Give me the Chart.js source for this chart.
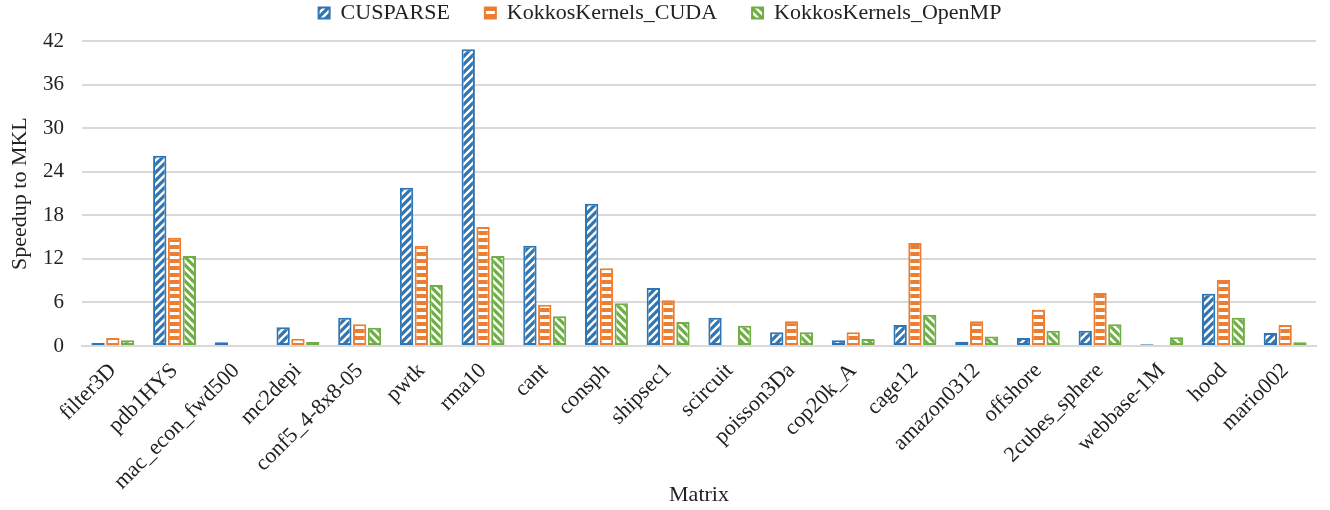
<!DOCTYPE html>
<html>
<head>
<meta charset="utf-8">
<script src="https://cdn.jsdelivr.net/npm/chart.js@4"></script>
<style>
  html, body { margin: 0; padding: 0; background: #ffffff; }
  #wrap { width: 1330px; height: 510px; }
</style>
</head>
<body>
<div id="wrap"><canvas id="c" width="1330" height="510"></canvas></div>
<script>
const categories = ["filter3D", "pdb1HYS", "mac_econ_fwd500", "mc2depi", "conf5_4-8x8-05", "pwtk", "rma10", "cant", "consph", "shipsec1", "scircuit", "poisson3Da", "cop20k_A", "cage12", "amazon0312", "offshore", "2cubes_sphere", "webbase-1M", "hood", "mario002"];
const cusparse = [0.4, 26.2, 0.5, 2.6, 3.9, 21.8, 40.9, 13.8, 19.6, 8.0, 3.9, 1.9, 0.8, 2.9, 0.6, 1.1, 2.1, 0.25, 7.2, 1.8];
const kkCuda = [1.1, 14.9, null, 1.0, 3.0, 13.8, 16.4, 5.7, 10.7, 6.3, null, 3.4, 1.9, 14.2, 3.4, 5.0, 7.3, null, 9.1, 2.9];
const kkOpenMP = [0.8, 12.4, 0.15, 0.55, 2.5, 8.4, 12.4, 4.1, 5.9, 3.3, 2.8, 1.9, 0.95, 4.3, 1.3, 2.1, 3.0, 1.2, 3.9, 0.5];
const seriesNames = ["CUSPARSE", "KokkosKernels_CUDA", "KokkosKernels_OpenMP"];
const yTicks = [0, 6, 12, 18, 24, 30, 36, 42];

const BLUE = "#2e75b6", ORANGE = "#ed7d31", GREEN = "#70ad47";

function diagPattern(color, dir) {
  const s = 8;
  const cv = document.createElement("canvas");
  cv.width = s; cv.height = s;
  const g = cv.getContext("2d");
  g.fillStyle = "#ffffff"; g.fillRect(0, 0, s, s);
  g.strokeStyle = color; g.lineWidth = 3.2; g.lineCap = "square";
  g.beginPath();
  if (dir > 0) {
    g.moveTo(-2, s + 2); g.lineTo(s + 2, -2);
    g.moveTo(-2, 2); g.lineTo(2, -2);
    g.moveTo(s - 2, s + 2); g.lineTo(s + 2, s - 2);
  } else {
    g.moveTo(-2, -2); g.lineTo(s + 2, s + 2);
    g.moveTo(s - 2, -2); g.lineTo(s + 2, 2);
    g.moveTo(-2, s - 2); g.lineTo(2, s + 2);
  }
  g.stroke();
  return g.createPattern(cv, "repeat");
}
function horizPattern(color) {
  const cv = document.createElement("canvas");
  cv.width = 8; cv.height = 7;
  const g = cv.getContext("2d");
  g.fillStyle = color; g.fillRect(0, 0, 8, 7);
  g.fillStyle = "#ffffff"; g.fillRect(0, 4, 8, 3);
  return g.createPattern(cv, "repeat");
}

const pBlue = diagPattern(BLUE, 1);
const pOrange = horizPattern(ORANGE);
const pGreen = diagPattern(GREEN, -1);

const common = { borderWidth: 2, borderSkipped: false, categoryPercentage: 0.72, barPercentage: 0.9 };

new Chart(document.getElementById("c"), {
  type: "bar",
  data: {
    labels: categories,
    datasets: [
      Object.assign({ label: seriesNames[0], data: cusparse, backgroundColor: pBlue, borderColor: BLUE }, common),
      Object.assign({ label: seriesNames[1], data: kkCuda, backgroundColor: pOrange, borderColor: ORANGE }, common),
      Object.assign({ label: seriesNames[2], data: kkOpenMP, backgroundColor: pGreen, borderColor: GREEN }, common)
    ]
  },
  options: {
    responsive: false,
    animation: false,
    layout: { padding: { left: 4, right: 14, top: -33, bottom: 2 } },
    plugins: {
      legend: {
        position: "top",
        labels: {
          font: { family: "Liberation Serif", size: 22 },
          color: "#222",
          boxWidth: 11, boxHeight: 11,
          padding: 35
        }
      },
      title: {
        display: true, text: "", weight: 500,
        font: { size: 1 }, padding: { top: 0, bottom: 6 }
      },
      tooltip: { enabled: false }
    },
    scales: {
      x: {
        grid: { display: false, drawTicks: false },
        border: { display: true, color: "#d9d9d9", width: 2 },
        afterFit: (axis) => { axis.height = 162; },
        ticks: {
          font: { family: "Liberation Serif", size: 22 },
          color: "#222",
          minRotation: 45, maxRotation: 45,
          autoSkip: false, padding: 12
        },
        title: { display: true, text: "Matrix", font: { family: "Liberation Serif", size: 22 }, color: "#222", padding: { top: 0, bottom: 0 } }
      },
      y: {
        min: 0, max: 42,
        afterBuildTicks: (axis) => { axis.ticks = yTicks.map(v => ({ value: v })); },
        afterFit: (axis) => { axis.width = 78; },
        grid: { color: "#d9d9d9", lineWidth: 2, drawTicks: false },
        border: { display: false },
        ticks: {
          font: { family: "Liberation Serif", size: 21 },
          color: "#222", padding: 18
        },
        title: { display: true, text: "Speedup to MKL", font: { family: "Liberation Serif", size: 22 }, color: "#222", padding: { top: 3, bottom: 2 } }
      }
    }
  }
});
</script>
</body>
</html>
